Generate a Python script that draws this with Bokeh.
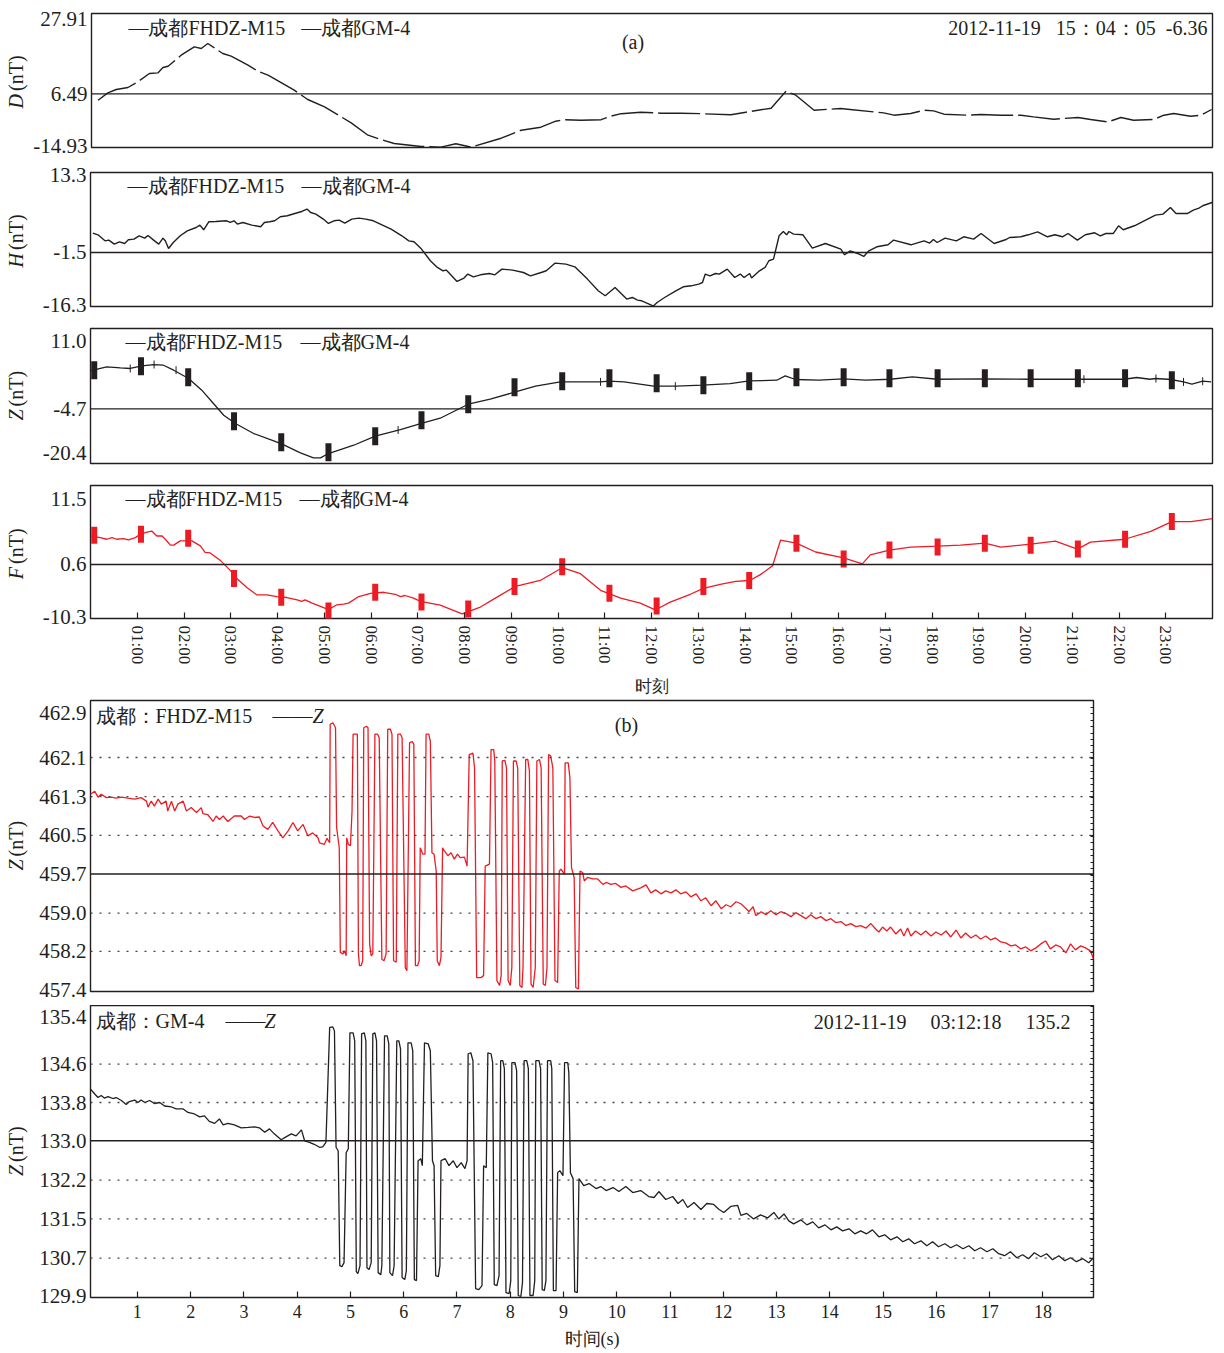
from math import pi

import numpy as np
from bokeh.embed import file_html
from bokeh.layouts import column, row
from bokeh.models import FixedTicker, Label, LinearAxis, Range1d, Span
from bokeh.plotting import figure
from bokeh.resources import INLINE

FONT = "Liberation Serif"
INK = "#231f20"
RED = "#ed1c24"

# ---------------------------------------------------------------------------
# (a) 2012-11-19 daily curves, time in hours after 00:00
# ---------------------------------------------------------------------------
HOUR_TICKS = list(range(1, 24))
HOUR_LABELS = ["01:00", "02:00", "03:00", "04:00", "05:00", "06:00", "07:00", "08:00",
               "09:00", "10:00", "11:00", "12:00", "13:00", "14:00", "15:00", "16:00",
               "17:00", "18:00", "19:00", "20:00", "21:00", "22:00", "23:00"]

D_TRACE = [
    (0.14, 0.19), (0.35, 2.53), (0.53, 3.61), (0.78, 4.25), (0.99, 6.04), (1.24, 8.73),
    (1.42, 8.92), (1.53, 10.65), (1.64, 11.06), (1.92, 14.58), (2.20, 17.23), (2.35, 16.72),
    (2.49, 18.32), (2.81, 15.12), (2.99, 14.26), (3.35, 11.38), (3.56, 9.46), (3.78, 8.18),
    (4.34, 3.39), (4.63, 0.42), (4.99, -1.95), (5.56, -7.07), (5.92, -11.00), (6.20, -12.37),
    (6.48, -13.65), (7.06, -14.60), (7.48, -14.80), (7.80, -13.72), (8.13, -14.80), (8.77, -11.96),
    (9.20, -9.40), (9.62, -8.44), (9.94, -6.52), (10.12, -6.04), (10.48, -6.20), (10.91, -6.04),
    (11.12, -4.92), (11.34, -4.12), (11.76, -3.64), (12.19, -3.96), (12.62, -3.96), (13.05, -4.12),
    (13.69, -4.44), (14.01, -3.64), (14.55, -2.37), (14.87, 3.07), (15.08, 1.79), (15.47, -3.01),
    (16.04, -2.46), (16.19, -2.69), (16.96, -3.87), (17.18, -4.60), (17.54, -4.06), (17.82, -3.01),
    (18.03, -3.23), (18.25, -4.28), (18.76, -4.60), (19.04, -4.38), (19.47, -4.60), (19.90, -4.60),
    (20.17, -5.15), (20.60, -5.88), (21.12, -5.34), (21.39, -5.98), (21.76, -6.75), (22.04, -5.34),
    (22.31, -6.20), (22.74, -5.98), (22.96, -4.60), (23.17, -4.06), (23.53, -4.92), (23.75, -4.60),
    (23.98, -2.78),
]
D_AXIS = (-14.93, 27.91)
D_TICKS = [26.09, 2.21, -14.51]
D_TICK_LABELS = ["27.91", "6.49", "-14.93"]
D_BASE = 2.21

H_TRACE = [
    (0.05, -0.08), (0.16, -0.46), (0.31, -1.79), (0.39, -1.63), (0.51, -2.52), (0.62, -2.01),
    (0.73, -2.38), (0.81, -1.56), (0.93, -1.41), (1.04, -0.68), (1.16, -1.19), (1.23, -0.61),
    (1.35, -1.63), (1.46, -2.52), (1.55, -1.19), (1.60, -1.79), (1.67, -3.49), (1.77, -2.16),
    (1.92, -0.68), (2.07, 0.42), (2.26, 1.15), (2.34, 1.68), (2.42, 0.65), (2.53, 2.41),
    (2.68, 2.48), (2.91, 2.63), (2.99, 2.26), (3.07, 2.63), (3.14, 1.90), (3.26, 2.26),
    (3.45, 1.68), (3.64, 1.31), (3.72, 2.26), (3.83, 2.41), (3.94, 2.63), (4.06, 3.52),
    (4.21, 3.74), (4.37, 4.24), (4.52, 4.69), (4.63, 5.22), (4.71, 4.46), (4.82, 4.11),
    (4.98, 3.01), (5.09, 2.04), (5.21, 2.63), (5.32, 2.79), (5.44, 2.12), (5.59, 3.01),
    (5.74, 3.23), (5.89, 3.01), (6.05, 2.63), (6.28, 1.53), (6.43, 0.80), (6.66, -0.68),
    (6.81, -1.79), (6.92, -2.01), (7.08, -3.62), (7.27, -6.20), (7.42, -7.68), (7.54, -8.41),
    (7.61, -8.26), (7.84, -10.77), (7.99, -10.02), (8.07, -9.14), (8.19, -9.74), (8.34, -9.30),
    (8.53, -9.01), (8.65, -9.30), (8.80, -8.04), (9.03, -8.26), (9.26, -8.79), (9.41, -9.52),
    (9.64, -8.79), (9.75, -8.41), (9.94, -6.71), (10.17, -6.93), (10.36, -7.53), (10.63, -10.25),
    (10.86, -12.83), (11.01, -13.93), (11.22, -12.10), (11.40, -13.93), (11.47, -14.66), (11.59, -14.31),
    (11.70, -14.88), (11.79, -15.04), (11.95, -15.77), (12.04, -16.20), (12.12, -15.41), (12.28, -14.31),
    (12.52, -12.83), (12.68, -11.95), (12.85, -11.73), (13.01, -11.35), (13.09, -11.00), (13.15, -9.14),
    (13.25, -9.52), (13.37, -9.01), (13.45, -9.14), (13.62, -8.04), (13.78, -9.89), (13.90, -9.14),
    (13.98, -9.89), (14.10, -9.01), (14.14, -10.02), (14.31, -8.41), (14.43, -7.68), (14.51, -6.20),
    (14.61, -5.83), (14.73, -0.68), (14.82, 0.27), (14.89, -0.46), (14.94, 0.27), (15.04, -0.31),
    (15.24, -0.46), (15.44, -3.40), (15.72, -2.38), (16.05, -3.62), (16.13, -4.88), (16.25, -4.00),
    (16.41, -4.59), (16.54, -5.25), (16.65, -4.00), (16.82, -3.11), (17.06, -2.67), (17.18, -1.63),
    (17.55, -2.67), (17.83, -1.79), (17.95, -2.30), (18.03, -1.50), (18.11, -2.16), (18.28, -1.19),
    (18.52, -1.79), (18.68, -0.90), (18.89, -1.41), (19.05, -0.17), (19.33, -2.38), (19.57, -1.56),
    (19.66, -1.06), (19.90, -0.90), (20.06, -0.46), (20.26, 0.20), (20.47, -0.90), (20.63, -0.46),
    (20.79, -0.90), (20.91, -0.17), (21.11, -1.63), (21.28, -0.46), (21.48, -0.02), (21.60, -0.68),
    (21.72, -0.17), (21.88, -0.17), (21.99, 1.53), (22.09, 0.65), (22.33, 1.53), (22.57, 2.79),
    (22.78, 3.89), (22.94, 4.11), (23.10, 5.57), (23.22, 4.24), (23.46, 4.24), (23.59, 4.99),
    (23.71, 5.44), (23.79, 5.95), (23.99, 6.68),
]
H_AXIS = (-16.3, 13.3)
H_TICKS = [12.79, -4.37, -15.92]
H_TICK_LABELS = ["13.3", "-1.5", "-16.3"]
H_BASE = -4.37

Z_TRACE = [
    (0.00, 1.14), (0.21, 1.70), (0.35, 2.07), (0.64, 1.83), (0.85, 1.70), (1.10, 2.30),
    (1.35, 2.62), (1.56, 2.46), (1.78, 1.30), (2.10, -0.63), (2.38, -3.35), (2.63, -6.45),
    (2.85, -9.17), (3.10, -11.10), (3.49, -13.43), (3.92, -15.15), (4.10, -15.91), (4.49, -17.94),
    (4.77, -19.10), (4.92, -19.10), (5.09, -18.08), (5.63, -16.15), (6.09, -14.05), (6.63, -12.50),
    (7.06, -11.10), (7.48, -9.87), (8.08, -6.61), (8.55, -5.45), (9.07, -3.82), (9.52, -2.42),
    (10.05, -1.42), (10.91, -1.42), (11.09, -1.26), (11.41, -1.42), (12.05, -2.42), (12.52, -2.42),
    (13.09, -2.19), (13.68, -1.80), (14.09, -1.19), (14.68, -1.03), (14.86, -0.03), (15.08, -0.86),
    (15.58, -1.03), (16.11, -0.72), (16.58, -1.03), (17.11, -0.80), (17.58, -0.26), (18.12, -0.80),
    (19.12, -0.72), (20.12, -0.80), (21.11, -0.80), (22.11, -0.80), (22.38, -0.40), (22.66, -0.80),
    (22.79, -0.63), (23.11, -0.86), (23.38, -1.42), (23.56, -1.96), (23.79, -1.26), (23.97, -1.42),
]
Z_AXIS = (-20.4, 11.0)
Z_TICKS = [8.05, -7.70, -18.0]
Z_TICK_LABELS = ["11.0", "-4.7", "-20.4"]
Z_BASE = -7.70

F_TRACE = [
    (0.00, 3.22), (0.21, 2.96), (0.35, 2.69), (0.46, 2.96), (0.56, 2.69), (0.71, 2.80),
    (0.81, 2.58), (0.96, 2.96), (1.06, 3.49), (1.21, 3.87), (1.31, 4.03), (1.42, 3.22),
    (1.53, 3.22), (1.60, 2.69), (1.71, 1.72), (1.78, 1.72), (1.92, 2.42), (2.17, 2.42),
    (2.35, 1.61), (2.45, 0.55), (2.56, 0.44), (2.78, -0.81), (2.99, -2.41), (3.13, -3.75),
    (3.35, -5.25), (3.56, -6.44), (3.77, -6.44), (3.99, -6.70), (4.20, -6.86), (4.42, -7.24),
    (4.52, -7.50), (4.59, -7.24), (4.74, -7.78), (4.92, -8.31), (5.09, -8.85), (5.27, -8.05),
    (5.41, -7.94), (5.52, -7.78), (5.74, -6.70), (5.99, -6.17), (6.27, -6.00), (6.52, -6.33),
    (6.63, -6.70), (6.73, -6.53), (6.91, -6.97), (7.06, -7.50), (7.48, -8.10), (7.95, -9.55),
    (8.34, -8.42), (8.66, -6.97), (9.09, -5.04), (9.62, -4.07), (10.09, -1.98), (10.48, -2.95),
    (10.91, -5.68), (11.34, -6.97), (11.76, -7.78), (12.08, -8.90), (12.40, -7.61), (12.83, -6.33),
    (13.11, -5.36), (13.47, -4.72), (13.80, -4.23), (14.10, -4.07), (14.33, -3.11), (14.59, -1.66),
    (14.76, 2.53), (15.10, 2.05), (15.51, 0.60), (16.11, -0.37), (16.51, -1.34), (16.68, 0.12),
    (17.09, 0.92), (17.54, 1.40), (18.12, 1.56), (18.61, 1.72), (19.13, 2.05), (19.47, 1.40),
    (20.11, 1.88), (20.64, 2.37), (21.11, 1.08), (21.39, 2.21), (22.12, 2.69), (22.68, 3.98),
    (23.13, 5.59), (23.54, 5.59), (24.00, 6.07),
]
F_AXIS = (-10.3, 11.5)
F_TICKS = [9.25, -1.44, -10.03]
F_TICK_LABELS = ["11.5", "0.6", "-10.3"]
F_BASE = -1.44

# hourly comparison marks shared by the Z and F curves
MARK_HOURS = [0.08, 1.08, 2.09, 3.07, 4.08, 5.09, 6.09, 7.08, 8.08, 9.07, 10.09, 11.10,
              12.11, 13.11, 14.09, 15.10, 16.11, 17.09, 18.12, 19.13, 20.11, 21.12, 22.13, 23.13]
Z_MARKS = [1.30, 2.23, -0.33, -10.57, -15.45, -17.78, -14.05, -10.33, -6.61, -2.66, -1.26, -0.56,
           -1.73, -2.19, -1.26, -0.33, -0.33, -0.56, -0.56, -0.56, -0.56, -0.56, -0.56, -1.03]
F_MARKS = [3.33, 3.49, 2.85, -3.75, -6.81, -9.06, -6.00, -7.61, -8.74, -5.04, -1.82, -6.17,
           -8.26, -5.04, -4.07, 2.05, -0.53, 0.92, 1.40, 2.05, 1.72, 1.08, 2.69, 5.59]
Z_MINOR_HOURS = [0.85, 1.36, 1.83, 6.58, 10.91, 12.51, 21.25, 22.79, 23.38, 23.79]
Z_MINOR_VALUES = [1.70, 2.62, 1.30, -12.6, -1.42, -2.42, -0.80, -0.63, -1.42, -1.26]

# ---------------------------------------------------------------------------
# (b) 1 Hz Z records, seconds
# ---------------------------------------------------------------------------
SEC_TICKS = list(range(1, 19))

FHDZ_PRE = [
    (0.12, 461.38), (0.20, 461.44), (0.26, 461.32), (0.32, 461.38), (0.42, 461.31), (0.51, 461.32),
    (0.60, 461.30), (0.70, 461.32), (0.82, 461.30), (0.95, 461.28), (1.07, 461.31), (1.17, 461.24),
    (1.20, 461.12), (1.26, 461.24), (1.32, 461.14), (1.39, 461.28), (1.45, 461.18), (1.54, 461.24),
    (1.57, 461.04), (1.64, 461.24), (1.70, 461.04), (1.76, 461.18), (1.86, 461.24), (1.92, 461.04),
    (2.01, 461.11), (2.11, 461.01), (2.20, 461.11), (2.23, 460.99), (2.32, 460.97), (2.42, 460.83),
    (2.48, 460.94), (2.54, 460.87), (2.61, 460.94), (2.70, 460.83), (2.82, 460.94), (2.95, 460.94),
    (3.01, 460.87), (3.11, 460.94), (3.20, 460.91), (3.29, 460.92), (3.36, 460.74), (3.45, 460.67),
    (3.54, 460.81), (3.64, 460.64), (3.73, 460.50), (3.83, 460.64), (3.92, 460.81), (4.01, 460.64),
    (4.11, 460.77), (4.20, 460.54), (4.29, 460.60), (4.39, 460.50), (4.42, 460.40), (4.48, 460.38),
    (4.51, 460.37), (4.56, 460.49), (4.61, 460.40),
]
FHDZ_BURST = [
    (4.62, 462.79), (4.67, 462.82), (4.72, 462.72), (4.74, 460.71), (4.79, 460.30), (4.81, 458.19),
    (4.86, 458.16), (4.89, 458.22), (4.92, 458.12), (4.93, 460.50), (4.96, 460.37), (5.00, 460.34),
    (5.03, 461.04), (5.05, 462.59), (5.13, 462.59), (5.15, 458.16), (5.17, 457.92), (5.20, 457.92),
    (5.23, 458.02), (5.25, 462.72), (5.30, 462.75), (5.33, 462.72), (5.36, 458.36), (5.39, 458.12),
    (5.42, 458.16), (5.46, 462.59), (5.51, 462.59), (5.54, 462.52), (5.59, 458.05), (5.63, 458.02),
    (5.67, 458.16), (5.70, 462.69), (5.75, 462.69), (5.78, 462.59), (5.81, 458.02), (5.86, 457.99),
    (5.89, 462.59), (5.94, 462.59), (5.97, 462.52), (6.03, 457.88), (6.06, 457.82), (6.11, 462.42),
    (6.16, 462.44), (6.19, 462.39), (6.22, 457.92), (6.26, 457.92), (6.29, 458.02), (6.31, 460.30),
    (6.36, 460.17), (6.40, 460.17), (6.42, 462.59), (6.47, 462.59), (6.50, 462.45), (6.53, 460.20),
    (6.57, 460.17), (6.61, 459.83), (6.63, 458.02), (6.67, 457.92), (6.70, 458.09), (6.73, 460.30),
    (6.76, 460.24), (6.83, 460.14), (6.89, 460.20), (6.95, 460.07), (7.01, 460.17), (7.06, 460.10),
    (7.14, 460.11), (7.19, 459.93), (7.23, 462.18), (7.30, 462.21), (7.33, 461.91), (7.37, 457.68),
    (7.45, 457.68), (7.50, 457.72), (7.53, 459.93), (7.61, 459.97), (7.64, 462.28), (7.69, 462.28),
    (7.71, 462.05), (7.75, 457.62), (7.80, 457.52), (7.83, 457.72), (7.85, 462.05), (7.90, 462.06),
    (7.93, 461.91), (7.96, 457.62), (8.00, 457.52), (8.03, 457.88), (8.06, 462.05), (8.11, 462.05),
    (8.14, 461.91), (8.18, 457.52), (8.22, 457.48), (8.24, 457.88), (8.29, 462.08), (8.33, 462.08),
    (8.36, 461.85), (8.39, 457.55), (8.43, 457.48), (8.47, 457.88), (8.50, 462.05), (8.55, 462.08),
    (8.58, 461.91), (8.62, 457.55), (8.66, 457.52), (8.69, 457.88), (8.72, 462.18), (8.76, 462.15),
    (8.80, 461.91), (8.84, 457.62), (8.89, 457.58), (8.92, 459.83), (8.95, 459.87), (9.02, 459.77),
    (9.03, 462.01), (9.09, 462.01), (9.12, 461.71), (9.15, 459.90), (9.20, 459.70), (9.23, 457.48),
    (9.28, 457.45), (9.31, 459.83), (9.36, 459.80), (9.39, 459.63), (9.45, 459.70), (9.55, 459.67),
    (9.64, 459.67), (9.74, 459.56), (9.80, 459.60), (9.89, 459.56), (9.98, 459.58), (10.08, 459.50),
]
FHDZ_POST = [
    (10.17, 459.53), (10.30, 459.43), (10.45, 459.49), (10.55, 459.55), (10.64, 459.39), (10.73, 459.45),
    (10.83, 459.37), (10.92, 459.43), (11.02, 459.39), (11.11, 459.45), (11.20, 459.37), (11.30, 459.41),
    (11.39, 459.31), (11.49, 459.37), (11.58, 459.23), (11.67, 459.29), (11.77, 459.13), (11.86, 459.23),
    (11.96, 459.07), (12.05, 459.15), (12.14, 459.11), (12.24, 459.21), (12.33, 459.17), (12.43, 459.07),
    (12.48, 459.01), (12.56, 459.11), (12.61, 458.93), (12.71, 459.01), (12.80, 458.95), (12.89, 459.03),
    (12.99, 458.95), (13.08, 459.01), (13.18, 458.97), (13.27, 458.91), (13.36, 458.99), (13.46, 458.93),
    (13.55, 458.87), (13.64, 458.95), (13.74, 458.87), (13.83, 458.91), (13.93, 458.83), (14.02, 458.87),
    (14.11, 458.79), (14.21, 458.81), (14.30, 458.73), (14.39, 458.77), (14.49, 458.71), (14.58, 458.73),
    (14.68, 458.68), (14.77, 458.77), (14.86, 458.66), (14.92, 458.60), (14.99, 458.70), (15.07, 458.62),
    (15.14, 458.70), (15.24, 458.56), (15.33, 458.66), (15.39, 458.52), (15.46, 458.68), (15.52, 458.52),
    (15.61, 458.62), (15.71, 458.54), (15.80, 458.62), (15.90, 458.52), (15.99, 458.60), (16.09, 458.54),
    (16.18, 458.62), (16.27, 458.50), (16.37, 458.64), (16.46, 458.48), (16.55, 458.58), (16.65, 458.48),
    (16.74, 458.54), (16.83, 458.46), (16.93, 458.52), (17.02, 458.44), (17.11, 458.48), (17.21, 458.40),
    (17.30, 458.38), (17.40, 458.32), (17.49, 458.34), (17.58, 458.26), (17.68, 458.30), (17.77, 458.22),
    (17.87, 458.28), (17.96, 458.36), (18.05, 458.42), (18.14, 458.26), (18.24, 458.34), (18.33, 458.30),
    (18.43, 458.18), (18.52, 458.36), (18.61, 458.24), (18.71, 458.32), (18.80, 458.28), (18.89, 458.22),
    (18.95, 458.06),
]
FHDZ_AXIS = (457.40, 463.27)
FHDZ_TICKS = [457.44, 458.21, 458.98, 459.77, 460.55, 461.33, 462.12, 463.02]
FHDZ_TICK_LABELS = ["457.4", "458.2", "459.0", "459.7", "460.5", "461.3", "462.1", "462.9"]
FHDZ_BASE = 459.77

GM4_PRE = [
    (0.12, 134.09), (0.20, 133.99), (0.26, 133.92), (0.32, 133.96), (0.38, 133.91), (0.45, 133.94),
    (0.54, 133.90), (0.60, 133.92), (0.70, 133.86), (0.79, 133.78), (0.85, 133.84), (0.95, 133.87),
    (1.01, 133.82), (1.07, 133.87), (1.14, 133.82), (1.23, 133.86), (1.32, 133.80), (1.42, 133.82),
    (1.51, 133.75), (1.64, 133.73), (1.73, 133.69), (1.86, 133.69), (1.95, 133.62), (2.07, 133.59),
    (2.17, 133.53), (2.26, 133.55), (2.35, 133.44), (2.45, 133.40), (2.54, 133.49), (2.61, 133.37),
    (2.70, 133.40), (2.82, 133.37), (2.95, 133.31), (3.08, 133.32), (3.20, 133.33), (3.29, 133.31),
    (3.39, 133.22), (3.48, 133.29), (3.57, 133.19), (3.70, 133.07), (3.79, 133.13), (3.89, 133.19),
    (3.98, 133.15), (4.08, 133.27), (4.14, 133.05), (4.23, 133.02), (4.32, 132.98), (4.42, 132.92),
    (4.48, 132.93), (4.54, 133.02),
]
GM4_BURST = [
    (4.61, 135.33), (4.67, 135.34), (4.70, 135.26), (4.73, 132.92), (4.77, 132.85), (4.80, 130.54),
    (4.84, 130.52), (4.88, 130.60), (4.92, 132.81), (4.96, 132.89), (4.99, 135.22), (5.05, 135.22),
    (5.08, 135.06), (5.11, 130.42), (5.14, 130.38), (5.18, 130.54), (5.21, 135.20), (5.26, 135.22),
    (5.29, 135.06), (5.31, 130.50), (5.35, 130.46), (5.39, 130.60), (5.42, 135.20), (5.46, 135.22),
    (5.49, 135.06), (5.52, 130.40), (5.57, 130.36), (5.59, 130.54), (5.64, 135.16), (5.69, 135.16),
    (5.72, 135.00), (5.74, 130.40), (5.79, 130.34), (5.82, 130.54), (5.87, 135.06), (5.91, 135.06),
    (5.94, 134.90), (5.97, 130.30), (6.02, 130.26), (6.05, 130.44), (6.08, 135.02), (6.14, 135.02),
    (6.17, 134.86), (6.20, 130.26), (6.24, 130.24), (6.27, 132.65), (6.32, 132.69), (6.35, 132.55),
    (6.39, 135.02), (6.46, 135.00), (6.50, 134.86), (6.54, 132.65), (6.57, 132.55), (6.60, 130.34),
    (6.65, 130.32), (6.68, 130.54), (6.70, 132.65), (6.78, 132.69), (6.85, 132.55), (6.93, 132.65),
    (7.00, 132.51), (7.08, 132.61), (7.15, 132.49), (7.19, 132.65), (7.21, 134.80), (7.26, 134.82),
    (7.30, 134.66), (7.35, 130.08), (7.41, 130.06), (7.47, 130.14), (7.50, 132.55), (7.55, 132.51),
    (7.58, 134.82), (7.64, 134.80), (7.67, 134.62), (7.70, 130.16), (7.75, 130.14), (7.79, 130.34),
    (7.82, 134.66), (7.86, 134.66), (7.89, 134.50), (7.92, 130.00), (7.98, 129.98), (8.01, 130.24),
    (8.03, 134.62), (8.09, 134.62), (8.12, 134.46), (8.15, 129.94), (8.20, 129.92), (8.23, 130.20),
    (8.26, 134.66), (8.31, 134.66), (8.34, 134.50), (8.37, 129.94), (8.43, 129.94), (8.46, 130.24),
    (8.48, 134.66), (8.54, 134.66), (8.57, 134.50), (8.60, 130.06), (8.64, 130.04), (8.67, 130.24),
    (8.70, 134.66), (8.76, 134.66), (8.78, 134.50), (8.81, 130.04), (8.86, 130.04), (8.89, 132.41),
    (8.93, 132.45), (8.99, 132.35), (9.02, 134.62), (9.08, 134.62), (9.10, 134.42), (9.13, 132.41),
    (9.18, 132.29), (9.21, 130.02), (9.26, 130.00), (9.29, 132.29),
]
GM4_POST = [
    (9.38, 132.15), (9.48, 132.19), (9.61, 132.09), (9.70, 132.13), (9.80, 132.05), (9.93, 132.11),
    (10.04, 132.03), (10.17, 132.13), (10.30, 132.01), (10.45, 132.05), (10.60, 131.93), (10.70, 131.91),
    (10.79, 132.03), (10.92, 131.87), (11.05, 131.93), (11.15, 131.79), (11.24, 131.87), (11.33, 131.71),
    (11.45, 131.81), (11.58, 131.67), (11.69, 131.79), (11.82, 131.77), (11.92, 131.67), (12.01, 131.61),
    (12.14, 131.73), (12.27, 131.75), (12.33, 131.55), (12.44, 131.59), (12.57, 131.48), (12.70, 131.56),
    (12.83, 131.50), (12.95, 131.61), (13.04, 131.48), (13.14, 131.58), (13.23, 131.44), (13.32, 131.38),
    (13.46, 131.46), (13.57, 131.36), (13.68, 131.42), (13.79, 131.30), (13.91, 131.36), (14.02, 131.26),
    (14.13, 131.32), (14.24, 131.24), (14.36, 131.28), (14.47, 131.18), (14.58, 131.24), (14.69, 131.18),
    (14.80, 131.26), (14.92, 131.12), (15.03, 131.16), (15.14, 131.06), (15.26, 131.12), (15.37, 131.02),
    (15.48, 131.08), (15.59, 130.98), (15.71, 131.04), (15.82, 130.94), (15.93, 131.02), (16.04, 130.92),
    (16.16, 130.98), (16.27, 130.90), (16.38, 130.96), (16.50, 130.88), (16.61, 130.94), (16.72, 130.84),
    (16.83, 130.90), (16.95, 130.82), (17.06, 130.88), (17.17, 130.78), (17.28, 130.74), (17.39, 130.82),
    (17.51, 130.70), (17.62, 130.76), (17.73, 130.68), (17.84, 130.80), (17.96, 130.72), (18.07, 130.78),
    (18.18, 130.66), (18.30, 130.74), (18.41, 130.64), (18.52, 130.70), (18.63, 130.62), (18.75, 130.68),
    (18.86, 130.60), (18.95, 130.70),
]
GM4_AXIS = (129.90, 135.77)
GM4_TICKS = [129.94, 130.69, 131.48, 132.26, 133.05, 133.82, 134.59, 135.53]
GM4_TICK_LABELS = ["129.9", "130.7", "131.5", "132.2", "133.0", "133.8", "134.6", "135.4"]
GM4_BASE = 133.05

LEGEND_A = ("—成都FHDZ-M15", "—成都GM-4")
STAMP_A = "2012-11-19\u2002\u00a015：04：05\u2002-6.36"
STAMP_B = "2012-11-19\u2003\u200903:12:18\u2003\u2009135.2"

# ---------------------------------------------------------------------------
TITLE_W = 30                      # narrow strip holding the rotated axis titles
A_RIGHT, B_RIGHT = 1212, 1093
A_W, B_W = A_RIGHT - 90, B_RIGHT - 90
A_X = (0.0, 24.0)
B_X = (0.12, 18.95)


def unzip(pairs):
    return [a for a, _ in pairs], [b for _, b in pairs]


def panel(height, top, bottom, xr, yr, right, with_x=False):
    extra = {} if with_x else {"x_axis_location": None}
    p = figure(width=1224 - TITLE_W, height=height, x_range=Range1d(*xr), y_range=Range1d(*yr),
               output_backend="svg", toolbar_location=None,
               min_border_left=90 - TITLE_W, min_border_right=1224 - right,
               min_border_top=top, min_border_bottom=bottom, **extra)
    p.frame_align = False
    p.grid.visible = False
    p.outline_line_color = INK
    p.outline_line_width = 1.4
    p.background_fill_color = "white"
    p.border_fill_color = "white"
    return p


def title_strip(height, top, frame_h, symbol):
    """Rotated 'X (nT)' title: italic symbol, upright unit, reading upward."""
    s = figure(width=TITLE_W, height=height, x_range=Range1d(0, 1), y_range=Range1d(0, 1),
               output_backend="svg", toolbar_location=None,
               x_axis_location=None, y_axis_location=None,
               min_border_left=0, min_border_right=0,
               min_border_top=top, min_border_bottom=height - top - frame_h)
    s.frame_align = False
    s.grid.visible = False
    s.outline_line_color = None
    s.background_fill_color = "white"
    s.border_fill_color = "white"
    split = 0.5 - 12.0 / frame_h
    gap = 1.5 / frame_h
    s.add_layout(Label(x=0.5, y=split - gap, text=symbol, text_font=FONT, text_font_size="20px",
                       text_font_style="italic", text_color=INK, text_align="right",
                       text_baseline="middle", angle=pi / 2))
    s.add_layout(Label(x=0.5, y=split + gap, text="(nT)", text_font=FONT, text_font_size="20px",
                       text_color=INK, text_align="left", text_baseline="middle", angle=pi / 2))
    return s


def y_axis(p, ticks, labels):
    ax = p.yaxis[0]
    ax.ticker = FixedTicker(ticks=ticks)
    ax.major_label_overrides = {t: s for t, s in zip(ticks, labels)}
    ax.axis_line_color = None
    ax.major_tick_in = 0
    ax.major_tick_out = 0
    ax.minor_tick_in = 0
    ax.minor_tick_out = 0
    ax.major_tick_line_color = None
    ax.minor_tick_line_color = None
    ax.major_label_text_font = FONT
    ax.major_label_text_font_size = "21px"
    ax.major_label_text_color = INK
    ax.major_label_standoff = 4


def put(p, fw, fh, dx, dy, text, size="20px", align="left", style="normal"):
    """Place text dx px right of the frame's left edge and dy px below its top."""
    xr, yr = p.x_range, p.y_range
    x = xr.start + dx / fw * (xr.end - xr.start)
    y = yr.end - dy / fh * (yr.end - yr.start)
    p.add_layout(Label(x=x, y=y, text=text, text_font=FONT, text_font_size=size,
                       text_font_style=style, text_color=INK, text_align=align,
                       text_baseline="middle"))


def baseline(p, where):
    p.add_layout(Span(location=where, dimension="width", line_color=INK, line_width=1.4))


# ---- (a) D ----
pD = panel(160, 13, 13, A_X, D_AXIS, A_RIGHT)
y_axis(pD, D_TICKS, D_TICK_LABELS)
baseline(pD, D_BASE)
x, y = unzip(D_TRACE)
pD.line(x, y, line_color=INK, line_width=1.4, line_dash="42 5")
put(pD, A_W, 134, 37, 14, LEGEND_A[0])
put(pD, A_W, 134, 210, 14, LEGEND_A[1])
put(pD, A_W, 134, 1117, 14, STAMP_A, align="right")
put(pD, A_W, 134, 542, 28, "(a)", align="center")

# ---- (a) H ----
pH = panel(158, 12, 12, A_X, H_AXIS, A_RIGHT)
y_axis(pH, H_TICKS, H_TICK_LABELS)
baseline(pH, H_BASE)
x, y = unzip(H_TRACE)
pH.line(x, y, line_color=INK, line_width=1.4)
put(pH, A_W, 134, 37, 13, LEGEND_A[0])
put(pH, A_W, 134, 211, 13, LEGEND_A[1])

# ---- (a) Z ----
pZ = panel(157, 10, 12, A_X, Z_AXIS, A_RIGHT)
y_axis(pZ, Z_TICKS, Z_TICK_LABELS)
baseline(pZ, Z_BASE)
x, y = unzip(Z_TRACE)
pZ.line(x, y, line_color=INK, line_width=1.3)
pZ.scatter(Z_MINOR_HOURS, Z_MINOR_VALUES, marker="dash", angle=pi / 2, size=8,
           line_color=INK, line_width=1)
pZ.rect(MARK_HOURS, Z_MARKS, width=6, height=18, width_units="screen", height_units="screen",
        fill_color=INK, line_color=None)
put(pZ, A_W, 135, 35, 13, LEGEND_A[0])
put(pZ, A_W, 135, 210, 13, LEGEND_A[1])

# ---- (a) F ----
pF = panel(224, 10, 78, A_X, F_AXIS, A_RIGHT, with_x=True)
y_axis(pF, F_TICKS, F_TICK_LABELS)
baseline(pF, F_BASE)
x, y = unzip(F_TRACE)
pF.line(x, y, line_color=RED, line_width=1.3)
pF.rect(MARK_HOURS, F_MARKS, width=6, height=17, width_units="screen", height_units="screen",
        fill_color=RED, line_color=None)
put(pF, A_W, 136, 35, 14, LEGEND_A[0])
put(pF, A_W, 136, 209, 14, LEGEND_A[1])
xa = pF.xaxis[0]
xa.ticker = FixedTicker(ticks=HOUR_TICKS)
xa.major_label_overrides = {t: s for t, s in zip(HOUR_TICKS, HOUR_LABELS)}
xa.major_label_orientation = "vertical"
xa.major_label_text_font = FONT
xa.major_label_text_font_size = "17px"
xa.major_label_text_color = INK
xa.major_label_standoff = 7
xa.axis_line_color = None
xa.major_tick_in = 6
xa.major_tick_out = 0
xa.major_tick_line_color = INK
xa.major_tick_line_width = 1.2
xa.minor_tick_line_color = None
xa.axis_label = "时刻"
xa.axis_label_text_font = FONT
xa.axis_label_text_font_size = "17px"
xa.axis_label_text_font_style = "normal"
xa.axis_label_text_color = INK
xa.axis_label_standoff = 10


# ---- (b) second records ----
def record_panel(height, top, bottom, axis, ticks, labels, base, with_x):
    p = panel(height, top, bottom, B_X, axis, B_RIGHT, with_x=with_x)
    y_axis(p, ticks, labels)
    for t in ticks[1:-1]:
        if t != base:
            p.add_layout(Span(location=t, dimension="width", line_color="#444444",
                              line_width=1.3, line_dash="2 7"))
    baseline(p, base)
    step = (ticks[-2] - ticks[1]) / 5.0
    minor = list(np.arange(axis[0], axis[1], step / 6.0))
    right = LinearAxis(ticker=FixedTicker(ticks=ticks[1:-1], minor_ticks=minor),
                       major_label_overrides={t: "" for t in ticks[1:-1]},
                       axis_line_color=None, major_tick_in=4, major_tick_out=0,
                       minor_tick_in=3, minor_tick_out=0, major_tick_line_color=INK,
                       minor_tick_line_color=INK, major_label_text_font_size="1px")
    p.add_layout(right, "right")
    return p


pB1 = record_panel(306, 1, 14, FHDZ_AXIS, FHDZ_TICKS, FHDZ_TICK_LABELS, FHDZ_BASE, False)
x, y = unzip(FHDZ_PRE + FHDZ_BURST + FHDZ_POST)
pB1.line(x, y, line_color=RED, line_width=1.3)
put(pB1, B_W, 291, 5, 15, "成都：FHDZ-M15")
put(pB1, B_W, 291, 182, 15, "——")
put(pB1, B_W, 291, 222, 15, "Z", style="italic")
put(pB1, B_W, 291, 536, 24, "(b)", align="center")

pB2 = record_panel(348, 0, 56, GM4_AXIS, GM4_TICKS, GM4_TICK_LABELS, GM4_BASE, True)
x, y = unzip(GM4_PRE + GM4_BURST + GM4_POST)
pB2.line(x, y, line_color=INK, line_width=1.3)
put(pB2, B_W, 292, 5, 15, "成都：GM-4")
put(pB2, B_W, 292, 135, 15, "——")
put(pB2, B_W, 292, 174, 15, "Z", style="italic")
put(pB2, B_W, 292, 980, 16, STAMP_B, align="right")
bx = pB2.xaxis[0]
bx.ticker = FixedTicker(ticks=SEC_TICKS)
bx.major_label_text_font = FONT
bx.major_label_text_font_size = "18px"
bx.major_label_text_color = INK
bx.major_label_standoff = 7
bx.axis_line_color = None
bx.major_tick_in = 6
bx.major_tick_out = 0
bx.major_tick_line_color = INK
bx.major_tick_line_width = 1.2
bx.minor_tick_line_color = None
bx.axis_label = "时间(s)"
bx.axis_label_text_font = FONT
bx.axis_label_text_font_size = "18px"
bx.axis_label_text_font_style = "normal"
bx.axis_label_text_color = INK
bx.axis_label_standoff = 8

layout = column(
    row(title_strip(160, 13, 134, "D"), pD, spacing=0),
    row(title_strip(158, 12, 134, "H"), pH, spacing=0),
    row(title_strip(157, 10, 135, "Z"), pZ, spacing=0),
    row(title_strip(224, 10, 136, "F"), pF, spacing=0),
    row(title_strip(306, 1, 291, "Z"), pB1, spacing=0),
    row(title_strip(348, 0, 292, "Z"), pB2, spacing=0),
    spacing=0,
)
open("out.html", "w").write(file_html(layout, INLINE))
